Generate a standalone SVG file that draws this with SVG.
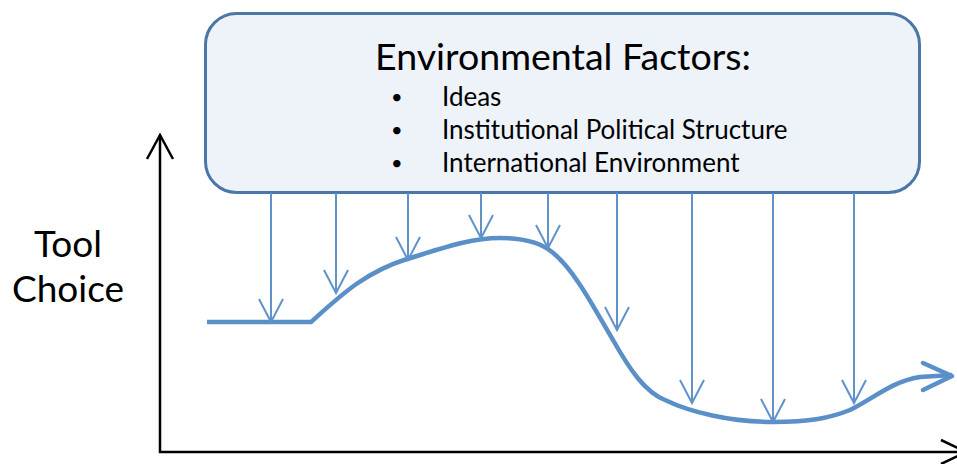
<svg xmlns="http://www.w3.org/2000/svg" width="957" height="464" viewBox="0 0 957 464">
<style>
.t{font-family:Lato,"Open Sans","Liberation Sans",sans-serif;fill:#000}
.conn line{stroke:#5F93CA;stroke-width:2}
.ax{stroke:#000;stroke-width:2.5;fill:none}
</style>
<defs>
<marker id="v" markerUnits="userSpaceOnUse" viewBox="-26 -15 30 30" markerWidth="30" markerHeight="30" refX="0" refY="0" orient="auto">
<path d="M-23,-12 L0,0 L-23,12" fill="none" stroke="#5F93CA" stroke-width="2"/>
</marker>
</defs>
<rect width="957" height="464" fill="#fff"/>
<g id="axes">
<line class="ax" x1="160" y1="135" x2="160" y2="453"/>
<polyline class="ax" points="147,159 160,135 173,159"/>
<line class="ax" x1="159" y1="452" x2="966" y2="452"/>
<polyline class="ax" points="941,440 966,452 941,464"/>
</g>
<g id="ylabel">
<text class="t" x="68" y="257" font-size="37" text-anchor="middle">Tool</text>
<text class="t" x="68" y="302" font-size="37" text-anchor="middle">Choice</text>
</g>
<g id="factors">
<rect x="205.5" y="13.5" width="714" height="179" rx="31" ry="31" fill="#EEF2F9" stroke="#4A76A8" stroke-width="3"/>
<text class="t" x="563" y="70" font-size="37.5" text-anchor="middle">Environmental Factors:</text>
<g font-size="26">
<text class="t" x="391" y="104" font-size="20">•</text>
<text class="t" x="442" y="106">Ideas</text>
<text class="t" x="391" y="137" font-size="20">•</text>
<text class="t" x="442" y="139">Institutional Political Structure</text>
<text class="t" x="391" y="170" font-size="20">•</text>
<text class="t" x="442" y="172">International Environment</text>
</g>
</g>
<g id="curve">
<path d="M207,322 H311 C340,296 365,272 407,259 C440,249 470,238 500,238 C520,238 540,242 552,252 C575,270 595,310 613,340 C630,370 645,392 665,400 C690,412 730,422 773,422 C810,422 830,418 850,410 C875,398 890,382 920,377 L952,375" fill="none" stroke="#5B8FC8" stroke-width="4.5"/>
<polyline points="923,363 952,376 923,390" fill="none" stroke="#5B8FC8" stroke-width="4.5" stroke-linecap="round" stroke-linejoin="round"/>
</g>
<g id="connectors" class="conn">
<line x1="271" y1="193" x2="271" y2="322" marker-end="url(#v)"/>
<line x1="336" y1="193" x2="336" y2="293" marker-end="url(#v)"/>
<line x1="408" y1="193" x2="408" y2="260" marker-end="url(#v)"/>
<line x1="481" y1="193" x2="481" y2="238" marker-end="url(#v)"/>
<line x1="548" y1="193" x2="548" y2="248" marker-end="url(#v)"/>
<line x1="617" y1="193" x2="617" y2="330" marker-end="url(#v)"/>
<line x1="692" y1="193" x2="692" y2="403" marker-end="url(#v)"/>
<line x1="773" y1="193" x2="773" y2="422" marker-end="url(#v)"/>
<line x1="854" y1="193" x2="854" y2="403" marker-end="url(#v)"/>
</g>
</svg>
